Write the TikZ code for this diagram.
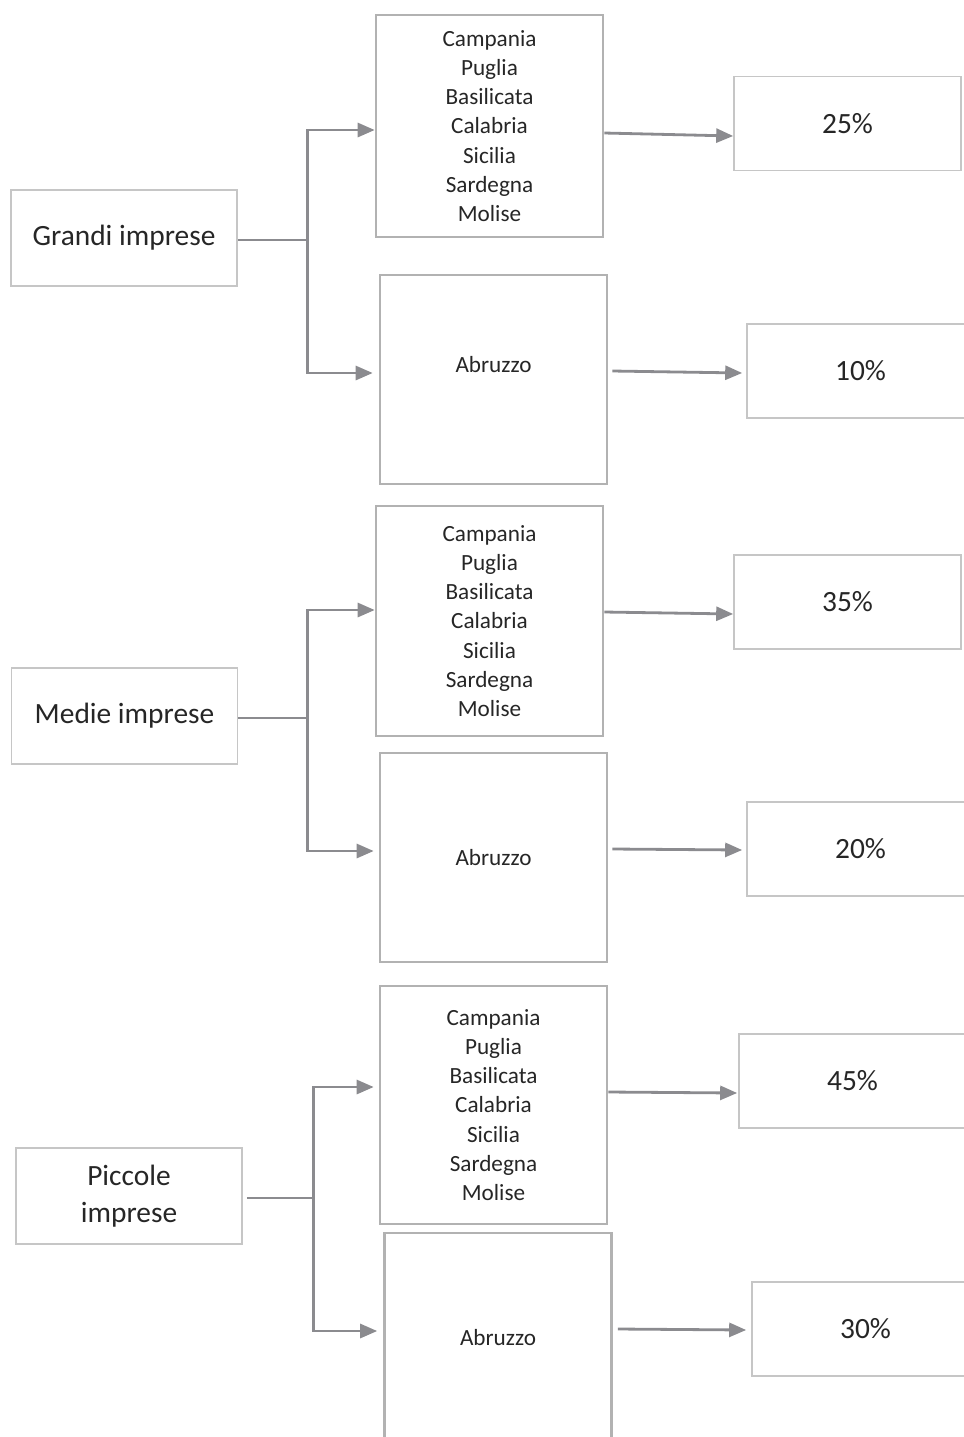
\documentclass[tikz,border=0pt]{standalone}
\usepackage{fontspec}
\setmainfont{Carlito}
\usetikzlibrary{arrows.meta}
\definecolor{bordo}{HTML}{B2B2B2}
\definecolor{bordochiaro}{HTML}{C6C6C6}
\definecolor{grigiofreccia}{HTML}{8B8B8F}
\definecolor{testo}{HTML}{262626}
\newcommand{\elencosud}{Campania\\Puglia\\Basilicata\\Calabria\\Sicilia\\Sardegna\\Molise}
\tikzset{
  impresa/.style={draw=bordochiaro, line width=0.8pt, minimum width=113pt, minimum height=48pt,
    inner sep=0pt, align=center, text=testo, font=\fontsize{14.7}{18.5}\selectfont},
  regioni/.style={draw=bordo, line width=1.3pt, minimum width=113.5pt, inner sep=0pt,
    align=center, text=testo, font=\fontsize{11.6}{14.6}\selectfont},
  quota/.style={draw=bordochiaro, line width=0.8pt, minimum width=113.5pt, minimum height=47pt,
    inner sep=0pt, text=testo, font=\fontsize{14.7}{18.5}\selectfont},
  linea/.style={draw=grigiofreccia, line width=1.4pt},
  freccia/.style={linea, -{Triangle[length=8.5pt,width=7pt]}}
}
\begin{document}
\begin{tikzpicture}[x=0.5pt,y=-0.5pt]
    \useasboundingbox (0,0) rectangle (964,1437);
    \clip (0,0) rectangle (964,1437);
    % imprese
    \node[impresa] (grandi) at (124,238) {Grandi imprese};
    \node[impresa] (medie) at (124.5,716) {Medie imprese};
    \node[impresa] (piccole) at (129,1196) {Piccole\\imprese};
    % regioni
    \node[regioni, minimum height=111pt] (gsud) at (489.5,126) {\elencosud};
    \node[regioni, minimum height=104.5pt,
        label={[text=testo, font=\fontsize{11.6}{14.6}\selectfont, yshift=7.5pt]center:Abruzzo}] (gabr) at (493.5,379.5) {};
    \node[regioni, minimum height=115pt] (msud) at (489.5,621) {\elencosud};
    \node[regioni, minimum height=104.5pt] (mabr) at (493.5,857.5) {Abruzzo};
    \node[regioni, minimum height=119pt] (psud) at (493.5,1105) {\elencosud};
    \node[regioni, minimum height=104.5pt] (pabr) at (498,1337.5) {Abruzzo};
    % quote
    \node[quota] (g25) at (847.5,123.5) {25\%};
    \node[quota] (g10) at (860.5,371) {10\%};
    \node[quota] (m35) at (847.5,602) {35\%};
    \node[quota] (m20) at (860.5,849) {20\%};
    \node[quota] (p45) at (852.5,1081) {45\%};
    \node[quota] (p30) at (865.5,1329) {30\%};
    % diramazioni
    \draw[linea] ([shift={(0,2)}]grandi.east) -- ++(70,0) coordinate (gj);
    \draw[freccia] (gj) |- ([shift={(0,4)}]gsud.west);
    \draw[freccia] (gj) |- ([shift={(-6,-6.5)}]gabr.west);
    \draw[linea] ([shift={(0,2)}]medie.east) -- ++(69,0) coordinate (mj);
    \draw[freccia] (mj) |- ([shift={(0,-11)}]msud.west);
    \draw[freccia] (mj) |- ([shift={(-5,-6.5)}]mabr.west);
    \draw[linea] ([shift={(4,2)}]piccole.east) -- ++(67,0) coordinate (pj);
    \draw[freccia] (pj) |- ([shift={(-5,-18)}]psud.west);
    \draw[freccia] (pj) |- ([shift={(-6,-6.5)}]pabr.west);
    % verso le quote
    \draw[freccia] ([shift={(0,7)}]gsud.east) -- ([shift={(0,12.5)}]g25.west);
    \draw[freccia] ([shift={(4,-8.5)}]gabr.east) -- ([shift={(-4,2)}]g10.west);
    \draw[freccia] ([shift={(0,-9)}]msud.east) -- ([shift={(0,12)}]m35.west);
    \draw[freccia] ([shift={(4,-8.5)}]mabr.east) -- ([shift={(-4,1)}]m20.west);
    \draw[freccia] ([shift={(0,-13)}]psud.east) -- ([shift={(-1,12)}]p45.west);
    \draw[freccia] ([shift={(5,-8.5)}]pabr.east) -- ([shift={(-5,1)}]p30.west);
\end{tikzpicture}
\end{document}
